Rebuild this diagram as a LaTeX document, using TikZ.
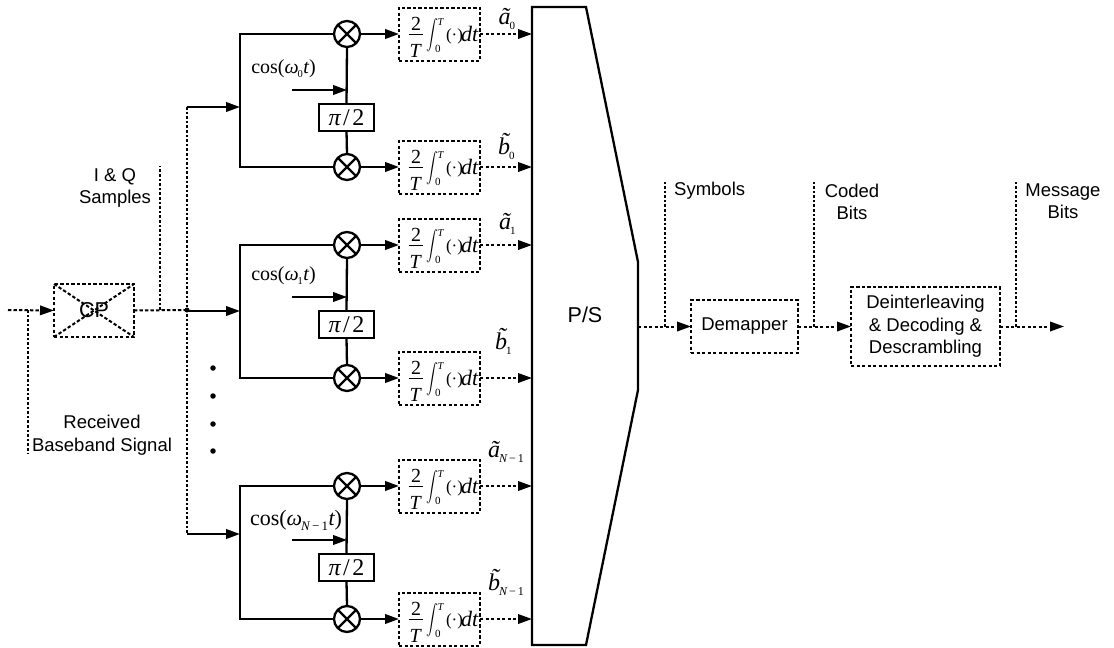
\documentclass[tikz,border=0pt]{standalone}
\usepackage{fontspec}
\usepackage{graphicx}
\setmainfont{Liberation Sans}
\newfontfamily\tmsr{Liberation Serif}
\usetikzlibrary{arrows.meta,calc}
\newcommand\fsz[1]{\fontsize{#1}{#1}\selectfont}
\newcommand\rmm[2]{\mbox{\fsz{#1}\tmsr #2}}
\newcommand\itm[2]{\mbox{\fsz{#1}\tmsr\itshape #2}}
\newcommand\ip[3]{\rlap{\hspace{#1pt}\raisebox{#2pt}{#3}}}
\newcommand\integ{\makebox[81pt][l]{%
  \rule[-26pt]{0pt}{52pt}%
  \ip{12}{4}{\rmm{20}{2}}%
  \ip{9.5}{-0.9}{\rule{14.5pt}{1.2pt}}%
  \ip{10.5}{-23.5}{\itm{20}{T}}%
  \ip{27}{-3.5}{$\vcenter{\hbox{\scalebox{1.2}[1.5]{$\displaystyle\int$}}}$}%
  \ip{38.5}{9}{\itm{10.5}{T}}%
  \ip{36}{-18}{\rmm{11}{0}}%
  \ip{47}{-6}{\rmm{17}{(·)}}%
  \ip{62}{-7}{\itm{22}{dt}}%
}}
\newcommand\tlab[3]{\itm{#1}{\~#2}\hspace{-1pt}\raisebox{-5pt}{#3}}
\tikzset{
  x=1pt,y=-1pt,
  solidln/.style={line width=2.3pt},
  dashln/.style={line width=2pt,dash pattern=on 3.4pt off 2.1pt},
  dotln/.style={line width=1.8pt,dash pattern=on 2.6pt off 2pt},
  tip/.style={-{Triangle[length=14pt,width=9.5pt]}},
  dashbox/.style={draw,dashln,inner sep=0pt,outer sep=0pt},
  intbox/.style={dashbox,minimum width=81pt,minimum height=53pt,text width=81pt},
  mixer/.style={draw,solidln,circle,minimum size=26pt,inner sep=0pt,outer sep=0pt},
  phase/.style={draw,solidln,minimum width=55pt,minimum height=27pt,inner sep=0pt,outer sep=0pt},
  lab/.style={inner sep=0pt,font=\fsz{18.5},align=center},
  cosl/.style={inner sep=0pt},
  outl/.style={inner sep=0pt,anchor=base west},
}
\newcommand\branch[8]{%
  % id, yTop, yBot, yIn, yCos, yArr, yPi, cos text
  \node[mixer] (mt#1) at (347,#2) {};
  \node[mixer] (mb#1) at (347,#3) {};
  \foreach \a in {45,135}{
    \draw[solidln] (mt#1.\a) -- (mt#1.\a+180);
    \draw[solidln] (mb#1.\a) -- (mb#1.\a+180);}
  \node[phase] (pi#1) at (346.5,#7) {\rmm{24}{\itshape π\hspace{2.5pt}\upshape/\hspace{2.5pt}2}};
  \coordinate (sp#1) at (240,#4);
  \coordinate (tap#1) at (187,#4);
  \coordinate (lo#1) at (292,#6);
  \coordinate (lot#1) at (347,#6);
  \draw[solidln] (mt#1.west) -- (sp#1|-mt#1) -- (sp#1|-mb#1) -- (mb#1.west);
  \draw[solidln] (mt#1.south) -- (pi#1.north);
  \draw[solidln] (pi#1.south) -- (mb#1.north);
  \draw[solidln,tip] (tap#1) -- (sp#1);
  \draw[solidln,tip] (lo#1) -- (lot#1);
  \node[cosl] (cos#1) at #5 {#8};
  \node[intbox] (it#1) at (439.5,#2) {\integ};
  \node[intbox] (ib#1) at (439.5,#3) {\integ};
  \draw[solidln,tip] (mt#1.east) -- (it#1.west);
  \draw[solidln,tip] (mb#1.east) -- (ib#1.west);
  \draw[dashln,tip] (it#1.east) -- (psw|-it#1.east);
  \draw[dashln,tip] (ib#1.east) -- (psw|-ib#1.east);
}
\begin{document}
\begin{tikzpicture}
\useasboundingbox (0,0) rectangle (1114,648);
\fill[white] (0,0) rectangle (1114,648);
% P/S
\coordinate (psw) at (532,326);
\draw[solidln,line join=miter] (532,7) -- (586,7) -- (638,262) -- (638,390) -- (586,645) -- (532,645) -- cycle;
\node[lab] (ps) at (585,315) {\fsz{21.5}P/S};
\coordinate (pse) at (638,326);
% front end
\node[dashbox,minimum width=80pt,minimum height=53pt] (cp) at (94,310.5) {};
\draw[dashln] (cp.north west) -- (cp.south east);
\draw[dashln] (cp.south west) -- (cp.north east);
\node[inner sep=0pt,font=\fsz{21.5}] (cpt) at (94,310.5) {CP};
\coordinate (in) at (8,310);
\coordinate (rxj) at (28,310);
\coordinate (rxe) at (28,454);
\coordinate (iqj) at (160,310);
\coordinate (iqe) at (160,166);
\coordinate (tapm) at (187,310);
\coordinate (tapt) at (187,107);
\draw[dashln,tip] (in) -- (cp.west);
\draw[dotln] (rxj) -- (rxe);
\draw[dashln] (cp.east) -- (tapm);
\draw[dotln] (iqj) -- (iqe);
\coordinate (tapbb) at (187,533);
\draw[dotln] (tapt) -- (tapbb);
\node[circle,fill=black,minimum size=5pt,inner sep=0pt] (jd) at (tapm) {};
\node[lab] (iq) at (115,188) {I \& Q\\[4pt]Samples};
\node[lab] (rx) at (102,435) {Received\\[4pt]Baseband Signal};
\foreach \i/\yy in {1/368,2/396,3/424,4/451}
  \node[circle,fill=black,minimum size=5.5pt,inner sep=0pt] (dot\i) at (213,\yy) {};
% branches
\branch{a}{34}{167}{107}{(283.5,69)}{90}{117.5}{\rmm{20}{cos(}$\itm{20}{ω}_{\hspace{-1pt}\rmm{10.5}{0}}$\itm{20}{t}\rmm{20}{)}}
\branch{b}{245}{378}{311}{(283.5,276)}{297}{324.5}{\rmm{20}{cos(}$\itm{20}{ω}_{\hspace{-1pt}\rmm{10.5}{1}}$\itm{20}{t}\rmm{20}{)}}
\branch{c}{486}{619}{534}{(296,520)}{540}{567.5}{\rmm{22}{cos(}$\itm{22}{ω}_{\hspace{-1pt}\itm{13}{N}\rmm{13}{\,−\,1}}$\itm{22}{t}\rmm{22}{)}}
% output labels
\node[outl] (la0) at (498.5,24) {\tlab{24}{a}{\rmm{11}{0}}};
\node[outl] (lb0) at (498,154) {\tlab{24}{b}{\rmm{11}{0}}};
\node[outl] (la1) at (499,229) {\tlab{24}{a}{\rmm{11}{1}}};
\node[outl] (lb1) at (495,349) {\tlab{24}{b}{\rmm{11}{1}}};
\node[outl] (la2) at (488,457) {\tlab{24}{a}{\itm{12}{N}\rmm{12}{\,−\,1}}};
\node[outl] (lb2) at (488,590) {\tlab{24}{b}{\itm{12}{N}\rmm{12}{\,−\,1}}};
% back end
\node[dashbox,minimum width=107pt,minimum height=53pt,font=\fsz{18.5}] (dem) at (744.5,326.5) {Demapper};
\node[dashbox,minimum width=149pt,minimum height=79pt,font=\fsz{18.5},align=center] (dec) at (925.5,326.5) {Deinterleaving\\[4pt]\& Decoding \&\\[4pt]Descrambling};
\coordinate (out) at (1064,326.5);
\draw[dashln,tip] (pse|-dem.west) -- (dem.west);
\draw[dashln,tip] (dem.east) -- (dec.west);
\draw[dashln,tip] (dec.east) -- (out);
\coordinate (s1) at (665,326.5); \coordinate (s2) at (665,182);
\coordinate (c1) at (814,326.5); \coordinate (c2) at (814,182);
\coordinate (m1) at (1016,326.5); \coordinate (m2) at (1016,182);
\draw[dotln] (s1) -- (s2);
\draw[dotln] (c1) -- (c2);
\draw[dotln] (m1) -- (m2);
\node[lab,anchor=west] (sym) at (674,191) {Symbols};
\node[lab] (cod) at (852,202) {Coded\\[4pt]Bits};
\node[lab] (msg) at (1063,201) {Message\\[4pt]Bits};
\end{tikzpicture}
\end{document}
